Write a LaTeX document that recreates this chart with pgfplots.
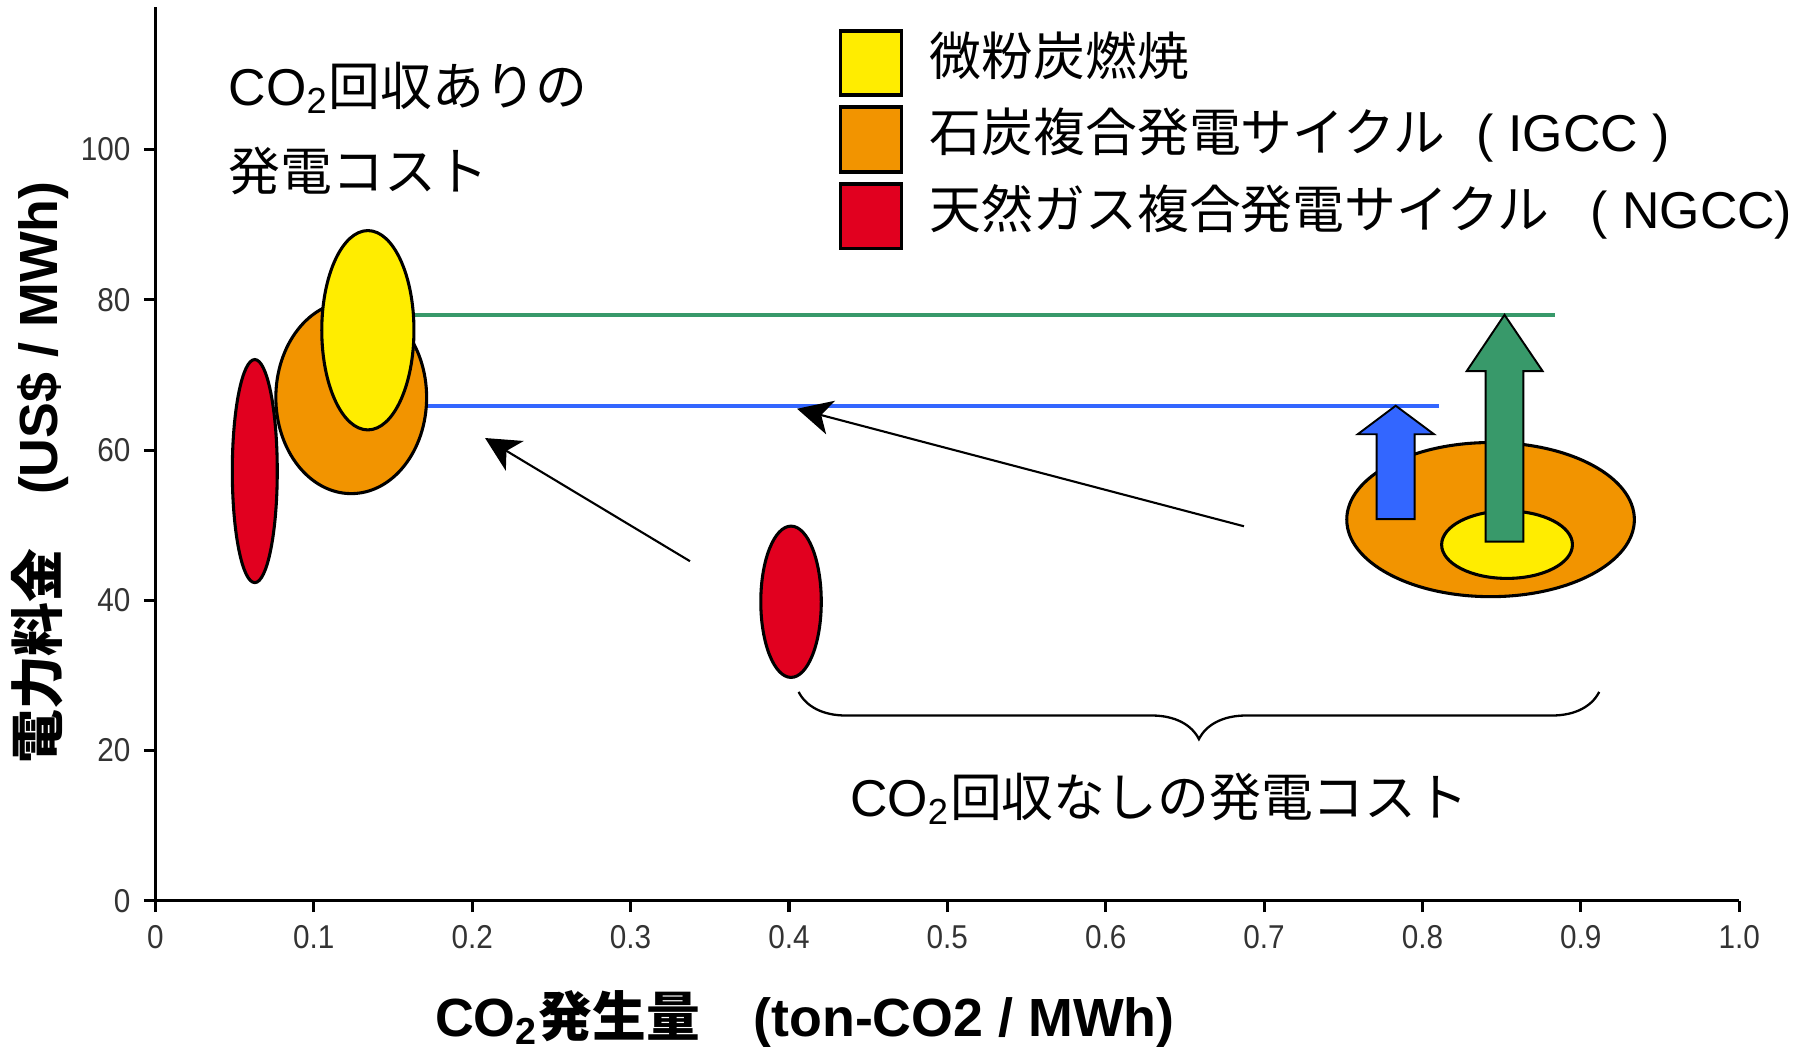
\documentclass[border=0pt]{standalone}
\usepackage{fontspec}
\setmainfont{Liberation Sans}
\newfontfamily\jp{Noto Sans CJK JP}
\newfontfamily\tickfont[FakeStretch=0.9]{Liberation Sans}
\usepackage{pgfplots}
\pgfplotsset{compat=1.18}
\usepackage{pgfplotstable}
\usetikzlibrary{arrows.meta,decorations.pathreplacing}

\definecolor{ycol}{HTML}{FFED00}
\definecolor{ocol}{HTML}{F29400}
\definecolor{rcol}{HTML}{E1001F}
\definecolor{gcol}{HTML}{38996A}
\definecolor{bcol}{HTML}{3366FF}

\pgfdeclareplotmark{nothing}{}

% ellipses: centre (x,y) and half-widths rx, ry in data units
\pgfplotstableread{
x y rx ry
0.0627 57.2 0.0142 14.85
0.4013 39.8 0.0191 10.07
}\redtab
\pgfplotstableread{
x y rx ry
0.1236 67.0 0.0476 12.8
0.8430 50.74 0.0908 10.26
}\orangetab
\pgfplotstableread{
x y rx ry
0.1341 75.95 0.0291 13.27
0.8534 47.4 0.0413 4.49
}\yellowtab

\pgfplotsset{
  ellipses/.style={only marks, scatter, mark=nothing, forget plot,
    visualization depends on={\thisrow{rx}\as\rx},
    visualization depends on={\thisrow{ry}\as\ry},
    scatter/@pre marker code/.code={%
      \pgfpathellipse{\pgfpointorigin}{\pgfplotspointaxisdirectionxy{\rx}{0}}{\pgfplotspointaxisdirectionxy{0}{\ry}}%
      \pgfsetlinewidth{0.8pt}\pgfsetfillcolor{#1}\pgfsetstrokecolor{black}%
      \pgfusepath{fill,stroke}},
    scatter/@post marker code/.code={}},
  sqlegend/.style={legend image code/.code={%
      \draw[draw=black, line width=1pt, ##1] (0pt,-10.2pt) rectangle (15.9pt,6.6pt);}}
}

\begin{document}
\begin{tikzpicture}
\useasboundingbox (-40.5pt,-38.1pt) rectangle (429.9pt,234.6pt);
\begin{axis}[
  at={(0pt,0pt)}, anchor=south west,
  scale only axis, width=412.5pt, height=232.8pt,
  xmin=0, xmax=1, ymin=0, ymax=119,
  axis lines=left, axis line style={-, line width=0.8pt},
  tick align=outside, major tick length=3pt,
  tick style={black, line width=0.8pt},
  xtick={0,0.1,0.2,0.3,0.4,0.5,0.6,0.7,0.8,0.9,1},
  xticklabels={0,0.1,0.2,0.3,0.4,0.5,0.6,0.7,0.8,0.9,1.0},
  ytick={0,20,40,60,80,100},
  yticklabels={0,20,40,60,80,100},
  tick label style={font=\tickfont\fontsize{8.6}{10}\selectfont, color=black!80},
  clip=false, clip marker paths=true,
  xlabel={CO\textsubscript{2}{\jp 発生量　}(ton-CO2 / MWh)},
  xlabel style={at={(axis description cs:0.410,-0.132)}, anchor=center, font=\fontsize{14}{16}\selectfont\bfseries},
  ylabel={{\jp 電力料金　}(US\$ / MWh)},
  ylabel style={at={(axis description cs:-0.0727,0.479)}, anchor=center, font=\fontsize{14}{16}\selectfont\bfseries},
  legend style={at={(axis description cs:0.4313,0.9755)}, anchor=north west, draw=none, fill=none,
    inner sep=0pt, outer sep=0pt, row sep=2.15pt, column sep=6.9pt,
    font=\fontsize{13.5}{16}\selectfont\jp, nodes={inner sep=0pt}},
  legend cell align=left,
]
\addlegendimage{sqlegend, fill=ycol}
\addlegendimage{sqlegend, fill=ocol}
\addlegendimage{sqlegend, fill=rcol}
\legend{微粉炭燃焼, 石炭複合発電サイクル{\rmfamily\hspace{0.6em}(\ IGCC\ )}, 天然ガス複合発電サイクル{\rmfamily\hspace{0.8em}(\ NGCC)}}

% level lines
\addplot[forget plot, gcol, line width=1.1pt] coordinates {(0.163,78.0)(0.8837,78.0)};
\addplot[forget plot, bcol, line width=1.1pt] coordinates {(0.171,65.9)(0.8106,65.9)};

% ellipses
\addplot[ellipses=rcol] table[x=x,y=y] {\redtab};
\addplot[ellipses=ocol] table[x=x,y=y] {\orangetab};
\addplot[ellipses=ycol] table[x=x,y=y] {\yellowtab};

% block arrows (above the ellipses)
\addplot[forget plot, fill=bcol, draw=black, line width=0.5pt, line join=miter]
  coordinates {(0.7711,50.8)(0.7950,50.8)(0.7950,62.1)(0.8073,62.1)(0.7831,65.9)(0.7591,62.1)(0.7711,62.1)} -- cycle;
\addplot[forget plot, fill=gcol, draw=black, line width=0.5pt, line join=miter]
  coordinates {(0.8399,47.8)(0.8637,47.8)(0.8637,70.5)(0.8759,70.5)(0.8518,78.0)(0.8279,70.5)(0.8399,70.5)} -- cycle;

% thin arrows
\addplot[forget plot, black, line width=0.55pt, -{Stealth[length=9pt,width=9pt,inset=2.5pt]}]
  coordinates {(0.3375,45.2)(0.2081,61.6)};
\addplot[forget plot, black, line width=0.55pt, -{Stealth[length=9pt,width=9pt,inset=2.5pt]}]
  coordinates {(0.6873,49.85)(0.4051,65.5)};

% brace
\addplot[forget plot, black, line width=0.6pt, decorate, decoration={brace, mirror, amplitude=12.3pt}]
  coordinates {(0.4061,27.8)(0.9116,27.8)};

% annotations
\node[anchor=base west, inner sep=0pt, font=\fontsize{13.5}{16}\selectfont] at (axis cs:0.0458,105.9) {CO\textsubscript{2}{\jp 回収ありの}};
\node[anchor=base west, inner sep=0pt, font=\fontsize{13.5}{16}\selectfont] at (axis cs:0.0458,94.6) {\jp 発電コスト};
\node[anchor=base west, inner sep=0pt, font=\fontsize{13.5}{16}\selectfont] at (axis cs:0.4382,11.25) {CO\textsubscript{2}{\jp 回収なしの発電コスト}};
\end{axis}
\end{tikzpicture}
\end{document}
